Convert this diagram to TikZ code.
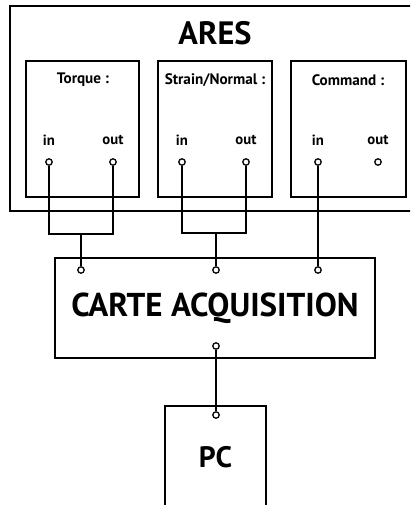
\documentclass[tikz,border=0pt]{standalone}
\usepackage{fontspec}
\setmainfont{PT Sans}
\usetikzlibrary{positioning, calc}

\begin{document}
\begin{tikzpicture}[
    x=0.025cm, y=-0.025cm,
    font=\bfseries,
    % Define styles for the different node types
    bigbox/.style={rectangle, draw=black, line width=1.1pt, inner sep=0pt},
    subbox/.style={rectangle, draw=black, line width=1.1pt, inner sep=0pt, minimum height=3.4cm},
    port/.style={circle, draw=black, line width=0.9pt, fill=white, inner sep=0pt, minimum size=0.16cm},
    wire/.style={line width=0.8pt},
    boxtitle/.style={font=\fontsize{10.8}{12}\selectfont\bfseries},
    pinlabel/.style={font=\fontsize{10.5}{12}\selectfont\bfseries},
]
\clip (0,0) rectangle (410,505);

% -------------------------
% ARES block
% -------------------------
\node (ares) [bigbox, minimum width=10.4cm, minimum height=5.125cm] at (218,108.5) {};
\node (arestitle) at (215,33) {\fontsize{23}{26}\selectfont ARES};

\node (torque) [subbox, minimum width=2.825cm] at (82.5,129) {};
\node (strain) [subbox, minimum width=2.85cm] at (215,129) {};
\node (command) [subbox, minimum width=2.875cm] at (348.5,129) {};

\node (torquetitle) [boxtitle] at (83,80) {Torque :};
\node (straintitle) [boxtitle] at (215,80) {Strain/Normal :};
\node (commandtitle) [boxtitle] at (348,80) {Command :};

% in / out pins
\node (tinlbl) [pinlabel] at (49,140) {in};
\node (toutlbl) [pinlabel] at (113,140) {out};
\node (sinlbl) [pinlabel] at (182,140) {in};
\node (soutlbl) [pinlabel] at (246,140) {out};
\node (cinlbl) [pinlabel] at (318,140) {in};
\node (coutlbl) [pinlabel] at (378,140) {out};

\node (tin) [port] at (49,162) {};
\node (tout) [port] at (113,162) {};
\node (sin) [port] at (182,162) {};
\node (sout) [port] at (246,162) {};
\node (cin) [port] at (318,162) {};
\node (cout) [port] at (378,162) {};

% -------------------------
% Acquisition card and PC
% -------------------------
\node (carte) [bigbox, minimum width=8cm, minimum height=2.5cm] at (215,308) {\fontsize{23.5}{26}\selectfont CARTE ACQUISITION};
\node (atorque) [port] at (81,270) {};
\node (astrain) [port] at (216,270) {};
\node (acommand) [port] at (318,270) {};
\node (aout) [port] at (216,346) {};

\node (pc) [bigbox, minimum width=2.525cm, minimum height=2.55cm] at (215.5,457) {\fontsize{21}{24}\selectfont PC};
\node (pcin) [port] at (216,415) {};

% -------------------------
% Wiring
% -------------------------
\coordinate (tbus) at (81,234);
\coordinate (sbus) at (216,233);

\draw[wire] (tin.south) |- (tbus) -| (tout.south);
\draw[wire] (tbus) -- (atorque.north);

\draw[wire] (sin.south) |- (sbus) -| (sout.south);
\draw[wire] (sbus) -- (astrain.north);

\draw[wire] (cin.south) -- (acommand.north);

\draw[wire] (aout.south) -- (pcin.north);

\end{tikzpicture}
\end{document}
